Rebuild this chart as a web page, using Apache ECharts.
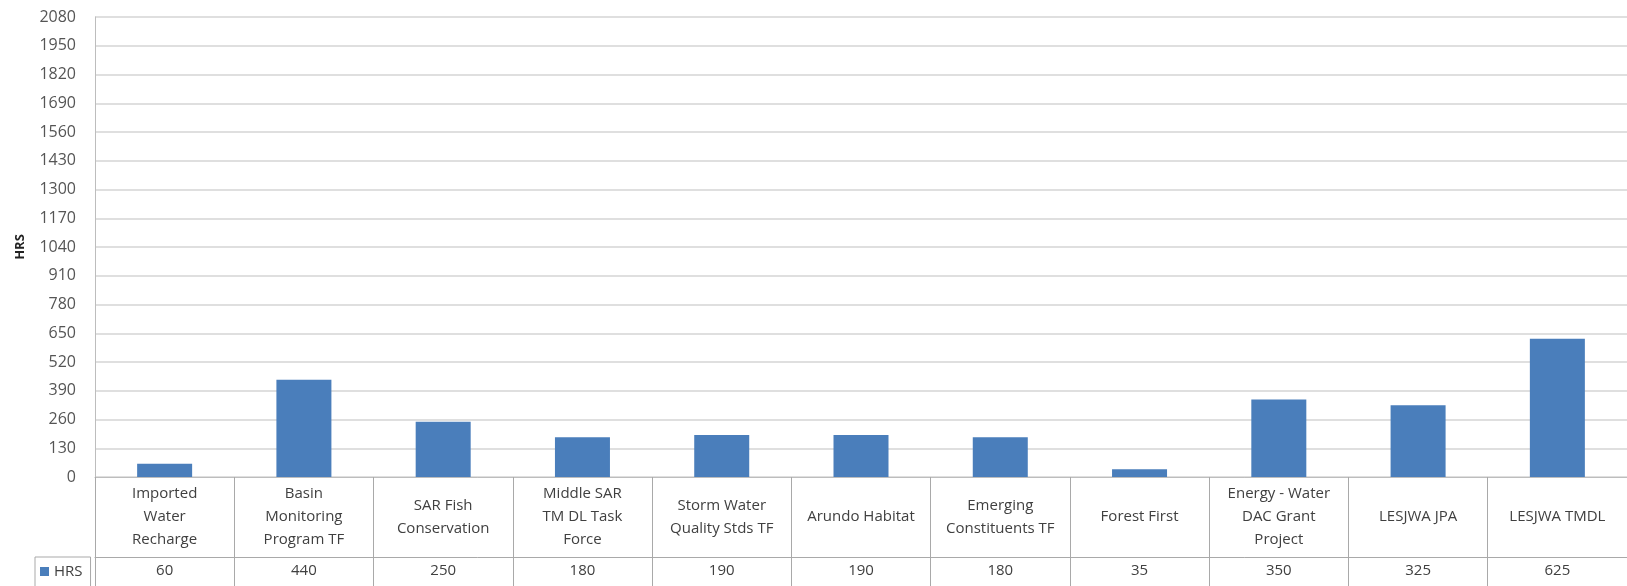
<!DOCTYPE html>
<html>
<head>
<meta charset="UTF-8">
<title>HRS</title>
<script src="https://cdn.jsdelivr.net/npm/echarts@6/dist/echarts.min.js"></script>
<style>
  html, body {margin:0; padding:0; background:#fff}
  #chart {width:1627px; height:586px}
</style>
</head>
<body>
<div id="chart"></div>
<script>
// data
var categories = ['Imported\nWater\nRecharge', 'Basin\nMonitoring\nProgram TF', 'SAR Fish\nConservation',
  'Middle SAR\nTM DL Task\nForce', 'Storm Water\nQuality Stds TF', 'Arundo Habitat', 'Emerging\nConstituents TF',
  'Forest First', 'Energy - Water\nDAC Grant\nProject', 'LESJWA JPA', 'LESJWA TMDL'];
var hrs = [60, 440, 250, 180, 190, 190, 180, 35, 350, 325, 625];
var yMax = 2080;
var yStep = 130;

var font = '"Open Sans", "Liberation Sans", sans-serif';
var lineCol = '#a9a9a9';

var chart = echarts.init(document.getElementById('chart'));
var option = {
  animation: false,
  textStyle: {fontFamily: font},
  grid: {left: 95, top: 17, width: 1536, bottom: 109},
  legend: {
    data: ['HRS'],
    left: 35, top: 557,
    icon: 'rect', itemWidth: 9, itemHeight: 9, itemGap: 4,
    padding: [7, 8, 10, 5],
    borderColor: lineCol, borderWidth: 1,
    textStyle: {fontSize: 15, color: '#404040', fontFamily: font}
  },
  xAxis: [{
    type: 'category',
    data: categories,
    axisLine: {show: true, lineStyle: {color: '#bdbdbd', width: 1}},
    axisTick: {show: true, interval: 0, length: 112, lineStyle: {color: lineCol}},
    axisLabel: {interval: 0, margin: 40, verticalAlign: 'middle', lineHeight: 23,
      fontSize: 15, color: '#404040', fontFamily: font}
  }, {
    type: 'category',
    position: 'bottom',
    offset: 80,
    data: hrs.map(String),
    axisLine: {show: true, lineStyle: {color: lineCol, width: 1}},
    axisTick: {show: false},
    axisLabel: {interval: 0, margin: 14, verticalAlign: 'middle',
      fontSize: 15, color: '#404040', fontFamily: font}
  }],
  yAxis: {
    type: 'value',
    min: 0, max: yMax, interval: yStep,
    name: 'HRS',
    nameLocation: 'middle',
    nameGap: 68,
    nameRotate: 90,
    nameTextStyle: {fontSize: 13, fontWeight: 'bold', color: '#222', fontFamily: font},
    axisLine: {show: true, lineStyle: {color: '#bdbdbd'}},
    axisTick: {show: false},
    axisLabel: {margin: 19, fontSize: 16, color: '#555', fontFamily: font,
      formatter: function (v) { return String(v); }},
    splitLine: {lineStyle: {color: '#d4d4d4', width: 1.5}}
  },
  series: [{
    name: 'HRS',
    type: 'bar',
    data: hrs,
    barWidth: 55,
    itemStyle: {color: '#4a7ebb'}
  }]
};
chart.setOption(option);
</script>
</body>
</html>
